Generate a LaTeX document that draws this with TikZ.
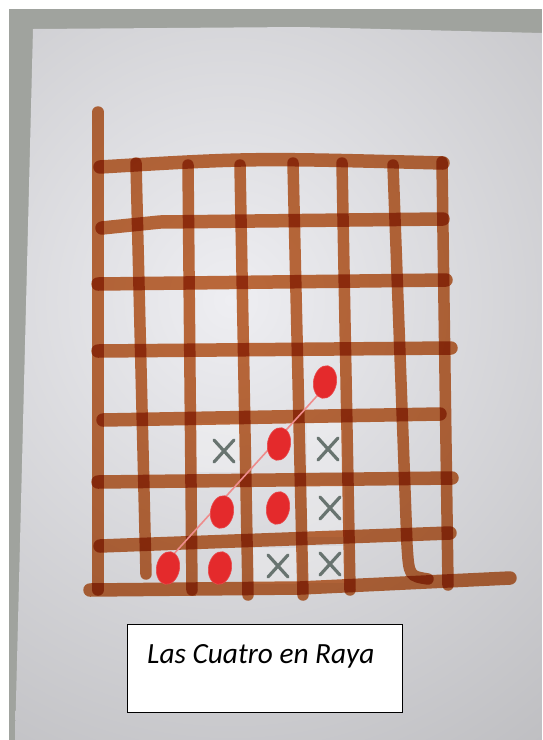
\documentclass[tikz,border=0pt]{standalone}
\usepackage{fontspec}
\newfontfamily\carlito{Carlito}
\usetikzlibrary{shapes.geometric}
\definecolor{bordergray}{RGB}{160,163,158}
\definecolor{paperlight}{RGB}{238,238,242}
\definecolor{paperdark}{RGB}{178,178,181}
\definecolor{markerink}{RGB}{200,112,62}
\definecolor{redink}{RGB}{228,42,44}
\definecolor{redline}{RGB}{238,140,140}
\definecolor{xgray}{RGB}{104,116,112}
\begin{document}
\begin{tikzpicture}[x=1pt,y=-1pt,
  hline/.style={line width=13.5pt, draw=markerink, line cap=round},
  vline/.style={line width=11.5pt, draw=markerink, line cap=round},
  piece/.style={ellipse, fill=redink, draw=redink!85!white, line width=0.6pt,
                minimum width=23pt, minimum height=33pt, inner sep=0pt, rotate=-10},
  crossmark/.style={draw=xgray, line width=3.2pt, line cap=round},
  lightcell/.style={fill=white, opacity=0.3}]
\useasboundingbox (0,0) rectangle (542,740);
% photo background
\fill[white] (0,0) rectangle (542,740);
\fill[bordergray] (9,9) rectangle (542,740);
\begin{scope}
  \clip (33,29) -- (300,27) -- (542,33) -- (542,740) -- (15,740) -- cycle;
  \shade[inner color=paperlight, outer color=paperdark] (-440,-400) rectangle (900,1000);
\end{scope}
% lighter cells
\fill[lightcell] (196,423) rectangle (240,472);
\fill[lightcell] (307,423) rectangle (343,472);
\fill[lightcell] (307,485) rectangle (345,537);
\fill[lightcell] (253,548) rectangle (298,584);
\fill[lightcell] (307,546) rectangle (345,583);
% grid
\begin{scope}[blend mode=multiply]
  \draw[hline] (100,167) .. controls (250,158) .. (443,163);
  \draw[hline] (102,228) -- (160,222) -- (443,219);
  \draw[hline] (98,284) -- (446,280);
  \draw[hline] (98,351) -- (451,348);
  \draw[hline] (103,420) -- (440,414);
  \draw[hline] (98,482) -- (452,478);
  \draw[hline] (100,546) -- (450,533);
  \draw[hline] (90,590) -- (300,588) -- (510,578);
  \draw[vline] (98,112) -- (98,590);
  \draw[vline] (136,163) -- (146,574);
  \draw[vline] (188,165) -- (192,590);
  \draw[vline] (240,165) -- (248,595);
  \draw[vline] (293,163) -- (303,595);
  \draw[vline] (342,163) -- (350,590);
  \draw[vline] (393,165) -- (407,545) .. controls (409,576) .. (428,579);
  \draw[vline] (442,162) -- (448,585);
\end{scope}
% red pieces
\coordinate (lineA) at (172,556);
\coordinate (lineB) at (326,386);
\draw[redline, line width=1.6pt, line cap=round] (lineA) -- (lineB);
\node[piece] (r1) at (168,568) {};
\node[piece] (r2) at (222,512) {};
\node[piece] (r3) at (279,444) {};
\node[piece] (r4) at (325,382) {};
\node[piece] (r5) at (220,568) {};
\node[piece] (r6) at (278,508) {};
% gray crosses
\foreach \cx/\cy in {224/451, 328/449, 330/508, 278/566, 330/564}{
  \draw[crossmark] (\cx-10,\cy-11) -- (\cx+10,\cy+11);
  \draw[crossmark] (\cx+10,\cy-11) -- (\cx-10,\cy+11);
}
% caption box
\node[draw=black, fill=white, line width=1.8pt, minimum width=275pt, minimum height=88pt, inner sep=0pt] (box) at (265,668.5) {};
\node[font=\carlito\itshape\fontsize{29.3}{33}\selectfont, anchor=base west, inner sep=0pt] (title) at (147,663) {Las Cuatro en Raya};
\end{tikzpicture}
\end{document}
